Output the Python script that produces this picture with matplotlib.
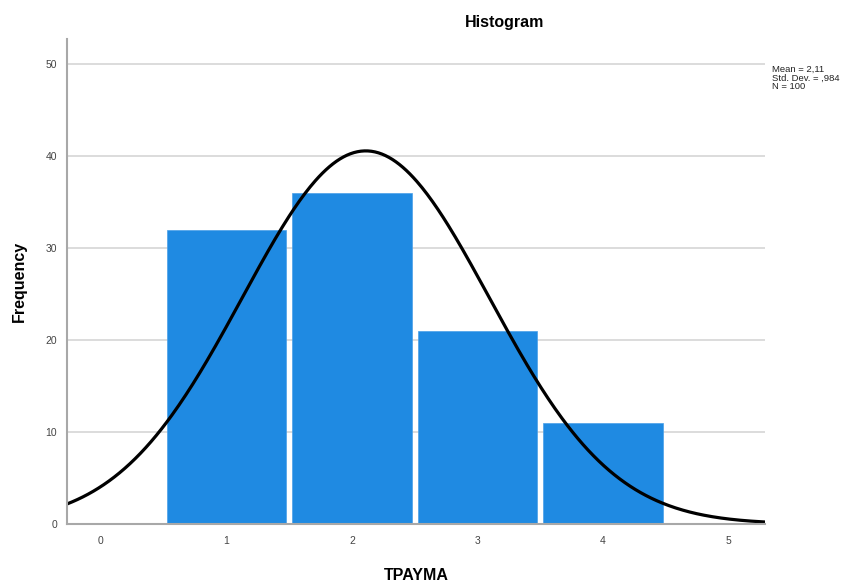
import numpy as np
import matplotlib
matplotlib.use('Agg')
import matplotlib.pyplot as plt

plt.rcParams['font.family'] = ['Liberation Sans', 'DejaVu Sans']

# histogram data
bin_centers = [1, 2, 3, 4]
frequencies = [32, 36, 21, 11]
x_ticks = [0, 1, 2, 3, 4, 5]
y_ticks = [0, 10, 20, 30, 40, 50]
mean = 2.11
std_dev = 0.984
n_total = 100

fig = plt.figure(figsize=(8.67, 5.84), dpi=100)
ax = fig.add_axes([67/867, 60/584, (765-67)/867, (545-60)/584])

ax.set_xlim(-0.27, 5.29)
ax.set_ylim(0, 52.7)

for yt in y_ticks[1:]:
    ax.axhline(yt, color='#d6d6d6', lw=1.2, zorder=0)

ax.bar(bin_centers, frequencies, width=0.95, color='#1f8ae2',
       edgecolor='#4aa0e8', linewidth=0.5, zorder=2)

# normal curve scaled to counts (bin width 1)
xs = np.linspace(-0.27, 5.29, 400)
ys = n_total / (std_dev * np.sqrt(2 * np.pi)) * np.exp(-0.5 * ((xs - mean) / std_dev) ** 2)
ax.plot(xs, ys, color='black', lw=2.3, zorder=3, solid_capstyle='butt')

for s in ['top', 'right']:
    ax.spines[s].set_visible(False)
for s in ['left', 'bottom']:
    ax.spines[s].set_color('#a8a8a8')
    ax.spines[s].set_linewidth(1.5)
    ax.spines[s].set_zorder(4)

ax.set_xticks(x_ticks)
ax.set_yticks(y_ticks)
ax.tick_params(length=0, labelsize=7.5, colors='#444444', pad=9)
ax.tick_params(axis='y', pad=7)

ax.set_ylabel('Frequency', fontsize=11.5, fontweight='bold')
ax.yaxis.set_label_coords(-0.058, 0.5)

fig.text(416/867, 1 - 575/584, 'TPAYMA', ha='center', va='center',
         fontsize=11.5, fontweight='bold')
fig.text(505/867, 1 - 22/584, 'Histogram', ha='center', va='center',
         fontsize=11.5, fontweight='bold')
fig.text(772/867, 1 - 65/584, 'Mean = 2,11\nStd. Dev. = ,984\nN = 100',
         ha='left', va='top', fontsize=6.8, linespacing=0.95, color='#222222')

fig.savefig('out.png', dpi=100)
